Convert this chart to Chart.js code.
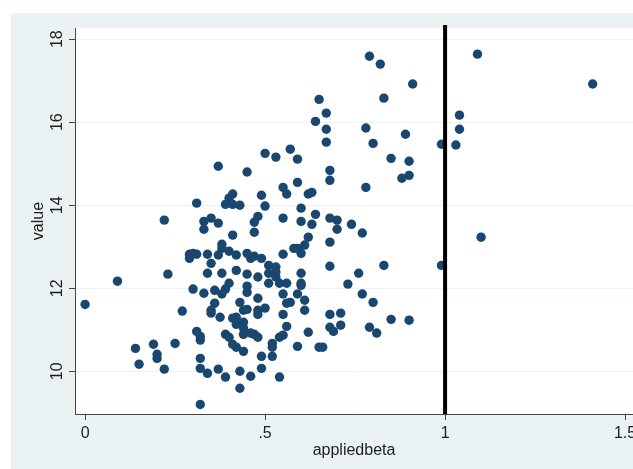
<!DOCTYPE html>
<html>
<head>
<meta charset="utf-8">
<script src="https://cdn.jsdelivr.net/npm/chart.js@4"></script>
<style>
  html, body { margin: 0; padding: 0; background: #fff; }
  canvas { display: block; }
</style>
</head>
<body>
<canvas id="scatterChart" width="633" height="469"></canvas>
<script>
// values
const appliedbeta = [
  0.00, 0.09, 0.23, 0.14, 0.15, 0.19, 0.20, 0.20, 0.22, 0.25, 0.27, 0.22, 0.30, 0.29, 0.29, 0.30,
  0.31, 0.31, 0.32, 0.32, 0.32, 0.32, 0.32, 0.33, 0.34, 0.34, 0.34, 0.35, 0.36, 0.36, 0.35, 0.35,
  0.37, 0.37, 0.38, 0.38, 0.38, 0.375, 0.38, 0.39, 0.40, 0.39, 0.40, 0.42, 0.42, 0.42, 0.42, 0.39,
  0.40, 0.41, 0.42, 0.43, 0.44, 0.44, 0.43, 0.43, 0.44, 0.44, 0.45, 0.45, 0.45, 0.45, 0.45, 0.46,
  0.46, 0.47, 0.47, 0.48, 0.48, 0.48, 0.48, 0.49, 0.49, 0.49, 0.50, 0.51, 0.51, 0.51, 0.52, 0.52,
  0.53, 0.53, 0.54, 0.54, 0.55, 0.55, 0.55, 0.56, 0.56, 0.56, 0.55, 0.57, 0.59, 0.59, 0.59, 0.60,
  0.60, 0.60, 0.61, 0.61, 0.61, 0.62, 0.62, 0.65, 0.66,
  0.46, 0.48, 0.54, 0.44, 0.52, 0.41, 0.53, 0.60,
  0.50, 0.53, 0.57, 0.59, 0.37, 0.45, 0.55, 0.56, 0.59, 0.62, 0.63, 0.31, 0.41, 0.40, 0.39, 0.41,
  0.43, 0.49, 0.50, 0.60, 0.64, 0.60, 0.63, 0.55, 0.48, 0.47, 0.47, 0.33, 0.35, 0.37, 0.33, 0.41,
  0.58,
  0.67, 0.80, 0.89, 0.99, 1.03, 0.85, 0.90, 0.68, 0.68, 0.90, 0.88, 0.78, 0.68, 0.70, 0.70, 0.74,
  0.77, 0.68, 0.68, 0.83, 0.99, 0.76, 0.73, 0.77, 0.80, 0.68, 0.71, 0.68, 0.69, 0.71, 0.79, 0.81,
  0.85, 0.90, 1.10,
  0.65, 0.67, 0.64, 0.67, 0.79, 0.82, 0.91, 0.83, 1.04, 1.04, 0.78, 1.09, 1.41
];
const value = [
  11.61, 12.17, 12.34, 10.55, 10.17, 10.65, 10.41, 10.31, 10.05, 10.67, 11.45, 13.64, 11.98, 12.82, 12.72, 12.84,
  12.82, 10.96, 10.84, 10.75, 10.31, 10.07, 9.20, 11.88, 12.36, 12.82, 9.95, 12.60, 11.95, 11.64, 11.47, 11.40,
  12.80, 10.05, 12.36, 13.06, 12.96, 11.30, 11.86, 11.98, 12.12, 9.86, 12.89, 12.80, 12.43, 11.30, 11.13, 10.89,
  10.82, 10.65, 10.58, 11.66, 11.47, 11.18, 10.00, 9.59, 10.89, 10.48, 12.34, 12.05, 11.90, 11.49, 12.84, 12.72,
  9.88, 12.77, 10.89, 12.27, 11.76, 11.47, 11.37, 12.72, 10.36, 10.07, 11.52, 12.36, 12.55, 12.12, 10.67, 10.36,
  12.51, 12.39, 12.12, 9.86, 11.86, 12.82, 11.37, 11.64, 12.12, 11.08, 10.87, 11.66, 10.60, 11.86, 12.96, 12.84,
  12.36, 12.07, 13.04, 11.71, 11.47, 13.23, 10.94, 10.58, 10.58,
  10.92, 10.82, 10.82, 11.04, 10.58, 11.28, 12.27, 12.12,
  15.25, 15.16, 15.35, 15.11, 14.94, 14.80, 14.43, 14.27, 14.55, 14.27, 14.31, 14.05, 14.27, 14.17, 14.02, 14.02,
  14.00, 14.24, 13.98, 13.93, 13.78, 13.61, 13.54, 13.69, 13.73, 13.59, 13.35, 13.61, 13.69, 13.57, 13.42, 13.28,
  12.96,
  15.52, 15.49, 15.71, 15.47, 15.45, 15.13, 15.06, 14.84, 14.60, 14.72, 14.65, 14.43, 13.69, 13.64, 13.42, 13.54,
  13.33, 13.11, 12.53, 12.55, 12.55, 12.36, 12.10, 11.86, 11.66, 11.37, 11.40, 11.06, 10.96, 11.11, 11.06, 10.92,
  11.25, 11.23, 13.23,
  16.55, 16.22, 16.02, 15.83, 17.59, 17.40, 16.92, 16.58, 16.17, 15.83, 15.86, 17.64, 16.92
];
const xTicks = [0, 0.5, 1, 1.5];
const xTickLabels = ['0', '.5', '1', '1.5'];
const yTicks = [10, 12, 14, 16, 18];
const refLineX = 1;

const xMin = -0.028, xMax = 1.522;
const yMin = 8.97, yMax = 18.27;

const points = appliedbeta.map((x, i) => ({ x, y: value[i] }));

const panelBackground = {
  id: 'panelBackground',
  beforeDraw(chart) {
    const { ctx, chartArea, width, height } = chart;
    ctx.save();
    ctx.fillStyle = '#ffffff';
    ctx.fillRect(0, 0, width, height);
    ctx.fillStyle = '#eaf2f3';
    ctx.fillRect(11, 13, width - 11, height - 13);
    ctx.fillStyle = '#ffffff';
    ctx.fillRect(chartArea.left, chartArea.top, chartArea.right - chartArea.left, chartArea.bottom - chartArea.top);
    ctx.restore();
  }
};

const textFont = { family: 'Liberation Sans', size: 16 };

const ctx = document.getElementById('scatterChart').getContext('2d');
new Chart(ctx, {
  type: 'scatter',
  data: {
    datasets: [
      {
        label: 'ref',
        data: [{ x: refLineX, y: yMin }, { x: refLineX, y: yMax + 0.07 }],
        showLine: true,
        borderColor: '#000000',
        borderWidth: 4,
        pointRadius: 0,
        clip: false,
      },
      {
        label: 'value',
        data: points,
        backgroundColor: '#1a476f',
        borderWidth: 0,
        pointRadius: 4.7,
        pointHoverRadius: 4.7,
      },
    ],
  },
  options: {
    responsive: false,
    devicePixelRatio: 1,
    animation: false,
    layout: { autoPadding: false, padding: { left: 11, top: 28, right: 0, bottom: 0 } },
    plugins: {
      legend: { display: false },
      tooltip: { enabled: false },
    },
    scales: {
      x: {
        type: 'linear',
        min: xMin,
        max: xMax,
        afterBuildTicks: s => { s.ticks = xTicks.map(v => ({ value: v })); },
        afterFit: s => { s.height = 55; s.paddingLeft = 0; s.paddingRight = 0; },
        ticks: {
          color: '#1e1e1e',
          font: textFont,
          padding: 4,
          maxRotation: 0,
          callback: (v) => xTickLabels[xTicks.indexOf(v)],
        },
        grid: { drawOnChartArea: false, tickColor: '#444', tickLength: 6 },
        border: { color: '#444', width: 1 },
        title: {
          display: true,
          text: 'appliedbeta',
          color: '#1e1e1e',
          font: textFont,
          padding: { top: 0, bottom: 9 },
        },
      },
      y: {
        type: 'linear',
        min: yMin,
        max: yMax,
        afterBuildTicks: s => { s.ticks = yTicks.map(v => ({ value: v })); },
        afterFit: s => { s.width = 64; s.paddingTop = 0; s.paddingBottom = 0; },
        ticks: {
          color: '#1e1e1e',
          font: textFont,
          padding: 3,
          minRotation: 90,
          maxRotation: 90,
          crossAlign: 'center',
        },
        grid: { color: '#eaf2f3', lineWidth: 1, tickColor: '#444', tickLength: 6 },
        border: { color: '#444', width: 1 },
        title: {
          display: true,
          text: 'value',
          color: '#1e1e1e',
          font: textFont,
          padding: { top: 18, bottom: 0 },
        },
      },
    },
  },
  plugins: [panelBackground],
});
</script>
</body>
</html>
